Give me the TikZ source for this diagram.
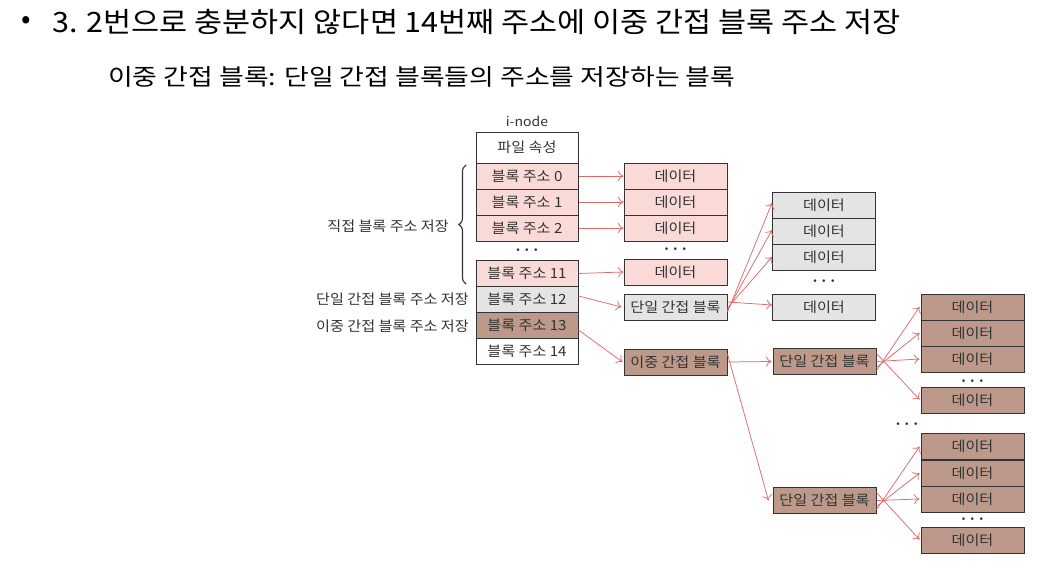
\documentclass[tikz,border=0pt]{standalone}
\usepackage{fontspec}
\newfontfamily\kr{Noto Sans CJK KR}
\newfontfamily\krd[FakeStretch=1.08]{Noto Sans CJK KR}
\newfontfamily\krt[FakeStretch=1.09]{Noto Sans CJK KR}
\newfontfamily\krs[FakeStretch=1.17]{Noto Sans CJK KR}
\usetikzlibrary{arrows.meta,decorations.pathreplacing}
\definecolor{pinkc}{HTML}{FADAD6}
\definecolor{grayc}{HTML}{E4E4E4}
\definecolor{brownc}{HTML}{BC998A}
\definecolor{bordc}{HTML}{333333}
\definecolor{arrc}{HTML}{E06A6A}
\begin{document}
\begin{tikzpicture}[x=1pt,y=-1pt,
  cell/.style={draw=bordc, line width=1pt, minimum width=103pt, minimum height=26pt, inner sep=0pt, font=\krd\fontsize{14}{16}\selectfont, text=black!80},
  pinkcell/.style={cell, fill=pinkc},
  graycell/.style={cell, fill=grayc},
  browncell/.style={cell, fill=brownc},
  whitecell/.style={cell, fill=white},
  lbl/.style={font=\krd\fontsize{14}{16}\selectfont, text=black!80, inner sep=0pt},
  dots/.style={font=\fontsize{16}{18}\selectfont\boldmath, inner sep=0pt, text=black!80},
  arr/.style={draw=arrc, line width=0.75pt, -{To[length=5.5pt,width=10pt]}}
]
\useasboundingbox (0,0) rectangle (1062,568);
\fill[white] (0,0) rectangle (1062,568);

% titles
\node[anchor=west, inner sep=0pt, font=\kr\fontsize{28}{30}\selectfont] (bul) at (21,22) {•};
\node[anchor=west, inner sep=0pt, font=\krt\fontsize{28}{30}\selectfont] (title) at (52,22) {3. 2번으로 충분하지 않다면 14번째 주소에 이중 간접 블록 주소 저장};
\node[anchor=west, inner sep=0pt, font=\krs\fontsize{23}{26}\selectfont] (sub) at (108,77) {이중 간접 블록: 단일 간접 블록들의 주소를 저장하는 블록};

% i-node column
\node[lbl, font=\krd\fontsize{13}{15}\selectfont] (inl) at (527,121) {i-node};
\node[whitecell, minimum width=102pt, minimum height=31pt] (attr) at (527,147.5) {파일 속성};
\node[pinkcell, minimum width=102pt] (i0) at (527,176) {블록 주소 0};
\node[pinkcell, minimum width=102pt] (i1) at (527,202) {블록 주소 1};
\node[pinkcell, minimum width=102pt] (i2) at (527,228) {블록 주소 2};
\node[dots] (idots) at (527,250) {$\cdots$};
\node[pinkcell, minimum width=102pt] (i11) at (527,273) {블록 주소 11};
\node[graycell, minimum width=102pt] (i12) at (527,299) {블록 주소 12};
\node[browncell, minimum width=102pt] (i13) at (527,325) {블록 주소 13};
\node[whitecell, minimum width=102pt] (i14) at (527,351) {블록 주소 14};

% left labels
\draw[line width=1.1pt, bordc, decorate, decoration={brace, amplitude=7pt}] (466,284) -- (466,165);
\node[lbl, anchor=east] (ldirect) at (449,226) {직접 블록 주소 저장};
\node[lbl, anchor=east] (lsingle) at (469,299) {단일 간접 블록 주소 저장};
\node[lbl, anchor=east] (ldouble) at (469,326) {이중 간접 블록 주소 저장};

% direct data
\node[pinkcell] (d0) at (675.5,176) {데이터};
\node[pinkcell] (d1) at (675.5,202) {데이터};
\node[pinkcell] (d2) at (675.5,228) {데이터};
\node[dots] (ddots) at (675.5,249) {$\cdots$};
\node[pinkcell] (d11) at (675.5,272) {데이터};

% single indirect
\node[graycell] (s1) at (675.5,307) {단일 간접 블록};
\node[graycell] (g0) at (824,205) {데이터};
\node[graycell] (g1) at (824,231) {데이터};
\node[graycell] (g2) at (824,257) {데이터};
\node[dots] (gdots) at (824,281) {$\cdots$};
\node[graycell] (g3) at (824,307) {데이터};

% double indirect
\node[browncell] (dbl) at (675.5,362) {이중 간접 블록};
\node[browncell] (sa) at (824.5,361.5) {단일 간접 블록};
\node[browncell] (sb) at (824.5,500.5) {단일 간접 블록};
\node[dots] (mdots) at (907,424) {$\cdots$};

\node[browncell] (a0) at (972.5,307) {데이터};
\node[browncell] (a1) at (972.5,333) {데이터};
\node[browncell] (a2) at (972.5,359) {데이터};
\node[dots] (adots) at (972.5,381) {$\cdots$};
\node[browncell] (a3) at (972.5,400.5) {데이터};

\node[browncell] (b0) at (972.5,446.5) {데이터};
\node[browncell] (b1) at (972.5,473) {데이터};
\node[browncell] (b2) at (972.5,499) {데이터};
\node[dots] (bdots) at (972.5,519) {$\cdots$};
\node[browncell] (b3) at (972.5,540.5) {데이터};

% arrows
\draw[arr] (i0.east) -- (d0.west);
\draw[arr] (i1.east) -- (d1.west);
\draw[arr] (i2.east) -- (d2.west);
\draw[arr] ([yshift=-0.5pt]i11.east) -- (d11.west);
\draw[arr] ([yshift=3pt]i12.east) -- ([xshift=-2pt]s1.west);
\draw[arr] ([yshift=-5pt]i13.east) -- ([xshift=-1pt]dbl.west);

\draw[arr] ([yshift=-5pt]s1.east) -- ([yshift=2pt]g0.west);
\draw[arr] ([yshift=-3pt]s1.east) -- ([yshift=1pt]g1.west);
\draw[arr] ([yshift=-1pt]s1.east) -- (g2.west);
\draw[arr] ([yshift=5pt]s1.east) -- ([yshift=2pt]g3.west);

\draw[arr] (dbl.east) -- ([xshift=-1pt]sa.west);
\draw[arr] ([yshift=8pt]dbl.east) -- ([xshift=-4pt]sb.west);

\draw[arr] ([yshift=-9pt]sa.east) -- ([xshift=-1pt]a0.west);
\draw[arr] ([yshift=-6pt]sa.east) -- ([xshift=-1pt]a1.west);
\draw[arr] ([yshift=0pt]sa.east) -- ([xshift=-1pt]a2.west);
\draw[arr] ([yshift=8pt]sa.east) -- ([xshift=-1pt,yshift=1pt]a3.west);

\draw[arr] ([yshift=-9pt]sb.east) -- ([xshift=-1pt]b0.west);
\draw[arr] ([yshift=-6pt]sb.east) -- ([xshift=-1pt]b1.west);
\draw[arr] ([yshift=0pt]sb.east) -- ([xshift=-1pt]b2.west);
\draw[arr] ([yshift=8pt]sb.east) -- ([xshift=-1pt,yshift=1pt]b3.west);
\end{tikzpicture}
\end{document}
